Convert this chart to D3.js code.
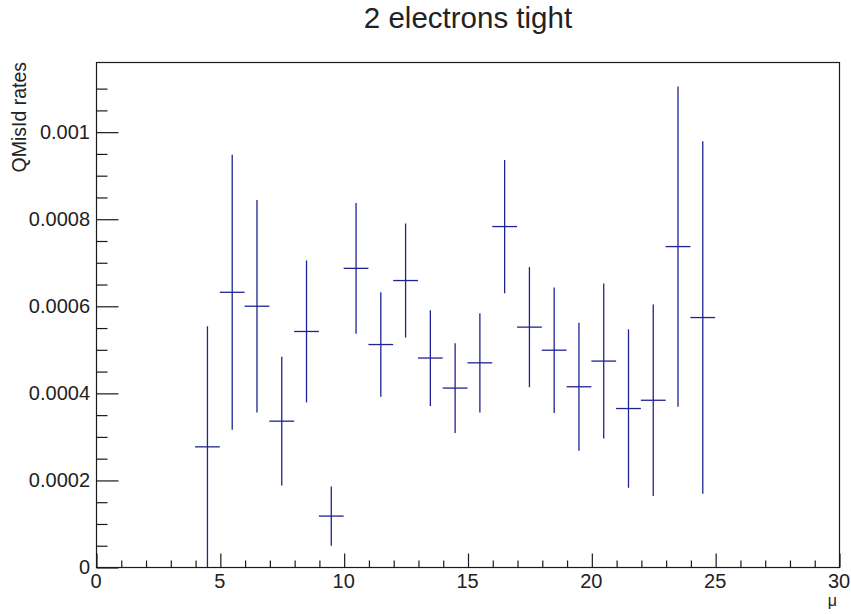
<!DOCTYPE html>
<html>
<head>
<meta charset="utf-8">
<script src="https://cdn.jsdelivr.net/npm/d3@7"></script>
<style>
  html, body { margin: 0; padding: 0; background: #fff; }
  svg { display: block; font-family: "Liberation Sans", Arial, Helvetica, sans-serif; }
</style>
</head>
<body>
<svg id="chart" width="851" height="614"></svg>
<script>
// ---- data ----
const binCenters = [4.5, 5.5, 6.5, 7.5, 8.5, 9.5, 10.5, 11.5, 12.5, 13.5, 14.5,
                    15.5, 16.5, 17.5, 18.5, 19.5, 20.5, 21.5, 22.5, 23.5, 24.5];
const rates = [0.000276, 0.000631, 0.000599, 0.000335, 0.000541, 0.000117, 0.000686,
               0.000511, 0.000658, 0.000480, 0.000411, 0.000469, 0.000782, 0.000551,
               0.000498, 0.000414, 0.000473, 0.000364, 0.000383, 0.000736, 0.000573];
const errors = [0.000277, 0.000316, 0.000244, 0.000148, 0.000163, 0.000068, 0.000150,
                0.000120, 0.000131, 0.000110, 0.000103, 0.000114, 0.000153, 0.000138,
                0.000144, 0.000147, 0.000178, 0.000182, 0.000220, 0.000368, 0.000405];
const binWidth = 1;
const xTickValues = [0, 5, 10, 15, 20, 25, 30];
const xTickLabels = ["0", "5", "10", "15", "20", "25", "30"];
const yTickValues = [0, 0.0002, 0.0004, 0.0006, 0.0008, 0.001];
const yTickLabels = ["0", "0.0002", "0.0004", "0.0006", "0.0008", "0.001"];
const titleText = "2 electrons tight";
const xTitle = "\u03bc";
const yTitle = "QMisId rates";

// ---- layout ----
const svg = d3.select("#chart");
const L = 96, R = 839, T = 62, B = 567;
const x = d3.scaleLinear().domain([0, 30]).range([L, R]);
const y = d3.scaleLinear().domain([0, 0.00116]).range([B, T]);
const axisColor = "#1a1a1a";
const markColor = "#1f2393";

// frame
svg.append("rect")
  .attr("x", L + 0.5).attr("y", T + 0.5)
  .attr("width", R - L).attr("height", B - T)
  .attr("fill", "none").attr("stroke", axisColor).attr("stroke-width", 1.2);

// x axis ticks (inside, upward)
const xAxis = d3.axisBottom(x)
  .tickValues(d3.range(0, 30.001, 1))
  .tickSize(0)
  .tickFormat("");
const gx = svg.append("g").attr("transform", `translate(0.5,${B + 0.5})`).call(xAxis);
gx.select(".domain").remove();
gx.selectAll(".tick line")
  .attr("y2", d => (Math.round(d) % 5 === 0) ? -14 : -7)
  .attr("stroke", axisColor).attr("stroke-width", 1.2);
svg.append("g").selectAll("text").data(xTickValues).join("text")
  .attr("x", d => x(d)).attr("y", 588)
  .attr("text-anchor", "middle")
  .attr("font-size", 20).attr("fill", "#222")
  .text((d, i) => xTickLabels[i]);

// y axis ticks (inside, rightward)
const yAxis = d3.axisLeft(y)
  .tickValues(d3.range(0, 23).map(i => i * 0.00005))
  .tickSize(0)
  .tickFormat("");
const gy = svg.append("g").attr("transform", `translate(${L + 0.5},0.5)`).call(yAxis);
gy.select(".domain").remove();
gy.selectAll(".tick line")
  .attr("x2", (d, i) => (i % 4 === 0) ? 22 : 11)
  .attr("stroke", axisColor).attr("stroke-width", 1.2);
svg.append("g").selectAll("text").data(yTickValues).join("text")
  .attr("x", 90).attr("y", d => y(d))
  .attr("dy", "0.35em")
  .attr("text-anchor", "end")
  .attr("font-size", 20).attr("fill", "#222")
  .text((d, i) => yTickLabels[i]);

// error bars
const bars = svg.append("g").attr("stroke", markColor).attr("stroke-width", 1.3).attr("fill", "none");
binCenters.forEach((c, i) => {
  const v = rates[i], e = errors[i];
  const lo = Math.max(0, v - e), hi = Math.min(0.00116, v + e);
  bars.append("line")
    .attr("x1", x(c)).attr("x2", x(c))
    .attr("y1", y(lo)).attr("y2", y(hi));
  bars.append("line")
    .attr("x1", x(c - binWidth / 2)).attr("x2", x(c + binWidth / 2))
    .attr("y1", y(v)).attr("y2", y(v));
});

// titles
svg.append("text")
  .attr("x", 468).attr("y", 28)
  .attr("text-anchor", "middle")
  .attr("font-size", 29.5).attr("fill", "#222")
  .text(titleText);
svg.append("text")
  .attr("x", R - 2).attr("y", 606)
  .attr("text-anchor", "end")
  .attr("font-size", 16).attr("fill", "#222")
  .text(xTitle);
svg.append("text")
  .attr("transform", `translate(26,${T}) rotate(-90)`)
  .attr("text-anchor", "end")
  .attr("font-size", 19.5).attr("fill", "#222")
  .text(yTitle);
</script>
</body>
</html>
